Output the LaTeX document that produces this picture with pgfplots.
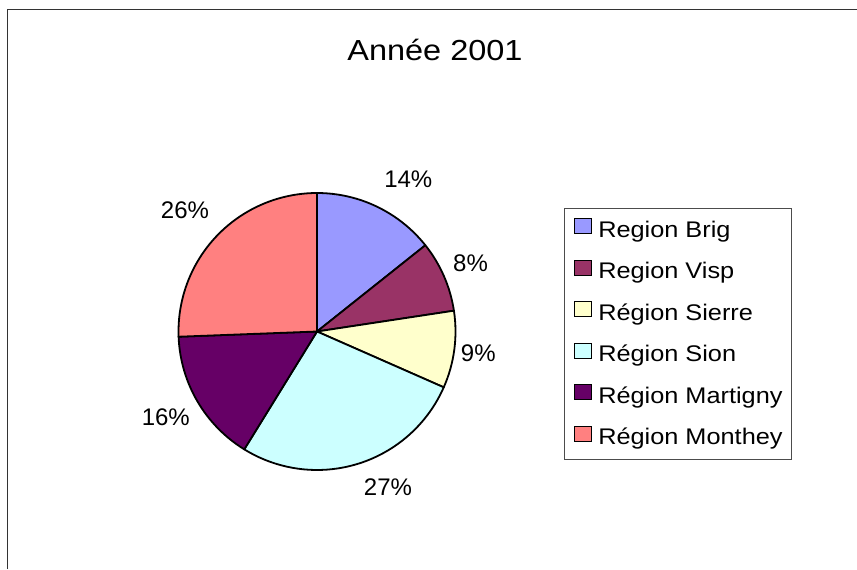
\documentclass[border=0pt]{standalone}
\usepackage{fontspec}
\setmainfont{Liberation Sans}
\newfontfamily\legfont{Liberation Sans}[FakeStretch=1.12]
\newfontfamily\titfont{Liberation Sans}[FakeStretch=1.12]
\usepackage{pgfplots}
\usepackage{pgfplotstable}
\pgfplotsset{compat=1.18}
\definecolor{c0}{HTML}{9999FF}
\definecolor{c1}{HTML}{993366}
\definecolor{c2}{HTML}{FFFFCC}
\definecolor{c3}{HTML}{CCFFFF}
\definecolor{c4}{HTML}{660066}
\definecolor{c5}{HTML}{FF8080}
% share (%) and label position (baseline centre, in picture units)
\pgfplotstableread{
v    lx     ly
14.3 408.3  381.7
8.3  470.5  297.3
9.0  478.3  208.0
27.2 388.0  74.0
15.6 165.8  144.0
25.6 185.0  350.7
}\pietable
\begin{document}
\begin{tikzpicture}
\begin{axis}[
  scale only axis, width=428.5pt, height=284.5pt,
  xmin=0, xmax=857, ymin=0, ymax=569,
  hide axis, clip=false,
  legend cell align=left,
  legend image code/.code={\filldraw[#1] (0pt,-1pt) rectangle (8.5pt,6.5pt);},
  legend style={at={(0.6581,0.635)}, anchor=north west,
    draw=black!70, line width=0.6pt,
    inner xsep=4.5pt, inner ysep=5pt,
    font=\legfont\fontsize{11.3pt}{13pt}\selectfont,
    row sep=8.7pt, /tikz/column sep=3.25pt,
    nodes={inner sep=0pt, text height=8pt, text depth=2.5pt}},
]
\def\cum{0}
\pgfplotsforeachungrouped \i in {0,...,5}{%
  \pgfplotstablegetelem{\i}{v}\of\pietable \let\v\pgfplotsretval
  \pgfplotstablegetelem{\i}{lx}\of\pietable \let\lx\pgfplotsretval
  \pgfplotstablegetelem{\i}{ly}\of\pietable \let\ly\pgfplotsretval
  \pgfmathsetmacro\a{90-3.6*\cum}%
  \pgfmathsetmacro\b{90-3.6*(\cum+\v)}%
  \pgfmathsetmacro\cum{\cum+\v}%
  \pgfmathtruncatemacro\lab{round(\v)}%
  \edef\temp{%
    \noexpand\filldraw[fill=c\i, draw=black, line width=0.9pt, line join=round]
      (axis cs:317,237.5) -- ([shift={(\a:69.25pt)}]axis cs:317,237.5)
      arc[start angle=\a, end angle=\b, radius=69.25pt] -- cycle;
    \noexpand\node[anchor=base, inner sep=0pt, font=\noexpand\fontsize{12pt}{14pt}\noexpand\selectfont]
      at (axis cs:\lx,\ly) {\lab\noexpand\%};
  }\temp
}
\addlegendimage{fill=c0, draw=black, line width=0.6pt}\addlegendentry{Region Brig}
\addlegendimage{fill=c1, draw=black, line width=0.6pt}\addlegendentry{Region Visp}
\addlegendimage{fill=c2, draw=black, line width=0.6pt}\addlegendentry{Région Sierre}
\addlegendimage{fill=c3, draw=black, line width=0.6pt}\addlegendentry{Région Sion}
\addlegendimage{fill=c4, draw=black, line width=0.6pt}\addlegendentry{Région Martigny}
\addlegendimage{fill=c5, draw=black, line width=0.6pt}\addlegendentry{Région Monthey}
\node[anchor=base, inner sep=0pt, font=\titfont\fontsize{14.5pt}{17pt}\selectfont]
  at (axis cs:435,508.3) {Année 2001};
\draw[line width=0.8pt, black!80] (axis cs:7.5,0) -- (axis cs:7.5,559.7) -- (axis cs:857,559.7);
\end{axis}
\pgfresetboundingbox
\path[use as bounding box] (current axis.south west) rectangle (current axis.north east);
\end{tikzpicture}
\end{document}
